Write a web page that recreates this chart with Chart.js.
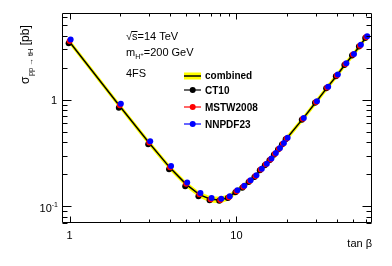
<!DOCTYPE html>
<html><head><meta charset="utf-8">
<script src="https://cdn.jsdelivr.net/npm/chart.js@4/dist/chart.umd.min.js"></script>
<style>html,body{margin:0;padding:0;background:#fff;}canvas{display:block;}</style>
</head><body>
<canvas id="c" width="392" height="266"></canvas>
<script>
const tanBeta = [1,2,3,4,5,6,7,8,9,10,11,12,13,14,15,16,17,18,19,20,25,30,35,40,45,50,55,60];
const ct10 = [3.38,0.842,0.382,0.223,0.155,0.125,0.1146,0.113,0.12,0.136,0.150,0.170,0.189,0.218,0.243,0.271,0.306,0.341,0.380,0.426,0.65,0.935,1.28,1.66,2.12,2.6,3.16,3.8];
const mstw2008 = [3.55,0.89,0.398,0.233,0.163,0.130,0.117,0.115,0.122,0.139,0.153,0.173,0.193,0.222,0.248,0.276,0.312,0.347,0.387,0.434,0.662,0.955,1.30,1.69,2.16,2.65,3.21,3.87];
const nnpdf23 = [3.66,0.918,0.408,0.24,0.168,0.134,0.120,0.118,0.125,0.142,0.156,0.176,0.196,0.226,0.252,0.281,0.317,0.353,0.393,0.441,0.673,0.97,1.323,1.72,2.20,2.69,3.27,3.93];
const combined = [3.48,0.87,0.393,0.23,0.161,0.129,0.117,0.115,0.122,0.139,0.153,0.173,0.193,0.222,0.248,0.276,0.311,0.347,0.386,0.433,0.662,0.952,1.30,1.69,2.16,2.64,3.21,3.86];
const combinedHigh = [3.69,0.92,0.417,0.244,0.171,0.137,0.125,0.123,0.130,0.147,0.162,0.183,0.205,0.235,0.263,0.293,0.330,0.368,0.409,0.459,0.702,1.01,1.38,1.79,2.29,2.80,3.40,4.09];
const combinedLow = [3.27,0.82,0.369,0.216,0.151,0.121,0.109,0.107,0.114,0.131,0.144,0.163,0.181,0.209,0.233,0.259,0.292,0.326,0.363,0.407,0.622,0.895,1.22,1.59,2.03,2.48,3.02,3.63];
const legendLabels = ['combined','CT10','MSTW2008','NNPDF23'];
const xTickLabels = [[1,'1'],[10,'10']];
const xMinor = [2,3,4,5,6,7,8,9,20,30,40,50,60];
const yMinor = [0.07,0.08,0.09,0.2,0.3,0.4,0.5,0.6,0.7,0.8,0.9,2,3,4,5,6];
const yMajor = [0.1,1];

const pts = arr => tanBeta.map((t,i)=>({x:t,y:arr[i]}));
const FONT = '"Liberation Sans", Arial, Helvetica, sans-serif';

const shiftPlugin = {
  id:'shift',
  beforeDatasetDraw(chart,args){
    const ds = chart.data.datasets[args.index];
    chart.ctx.save();
    if (ds.shiftX) chart.ctx.translate(ds.shiftX,0);
  },
  afterDatasetDraw(chart,args){ chart.ctx.restore(); }
};

const framePlugin = {
  id:'frame',
  afterDraw(chart){
    const ctx = chart.ctx, a = chart.chartArea;
    const xs = chart.scales.x, ys = chart.scales.y;
    ctx.save();
    ctx.strokeStyle = '#000'; ctx.lineWidth = 1;
    const L=Math.round(a.left)+0.5, R=Math.round(a.right)-0.5, T=Math.round(a.top)+0.5, B=Math.round(a.bottom)-0.5;
    ctx.beginPath(); ctx.rect(L,T,R-L,B-T); ctx.stroke();
    ctx.beginPath();
    const xt = (v,len)=>{ const p=Math.round(xs.getPixelForValue(v))+0.5; ctx.moveTo(p,B); ctx.lineTo(p,B-len); ctx.moveTo(p,T); ctx.lineTo(p,T+len); };
    const yt = (v,len)=>{ const p=Math.round(ys.getPixelForValue(v))+0.5; ctx.moveTo(L,p); ctx.lineTo(L+len,p); ctx.moveTo(R,p); ctx.lineTo(R-len,p); };
    xTickLabels.forEach(t=>xt(t[0],6)); xMinor.forEach(v=>xt(v,3));
    yMajor.forEach(v=>yt(v,9)); yMinor.forEach(v=>yt(v,5));
    ctx.stroke();
    // tick labels
    ctx.fillStyle = '#000';
    ctx.font = '11px '+FONT;
    ctx.textAlign='center'; ctx.textBaseline='alphabetic';
    xTickLabels.forEach(t=>ctx.fillText(t[1], xs.getPixelForValue(t[0]), 239));
    ctx.textAlign='right';
    ctx.fillText('1', 57, ys.getPixelForValue(1)+4);
    const yb = ys.getPixelForValue(0.1)+6;
    ctx.font = '7px '+FONT; ctx.textAlign='left';
    const supW = ctx.measureText('-1').width;
    ctx.fillText('-1', 58-supW, yb-5);
    ctx.font = '11px '+FONT; ctx.textAlign='right';
    ctx.fillText('10', 58-supW, yb);
    // x title
    ctx.font = '11px '+FONT; ctx.textAlign='right';
    ctx.fillText('tan β', 372, 247);
    // y title rotated
    ctx.save();
    ctx.translate(29, 84); ctx.rotate(-Math.PI/2);
    ctx.textAlign='left';
    let x=0;
    ctx.font='12px '+FONT; ctx.fillText('σ',x,0); x+=ctx.measureText('σ').width+0.5;
    ctx.font='7.5px '+FONT; ctx.fillText('pp → tH',x,4); x+=ctx.measureText('pp → tH').width;
    ctx.font='12px '+FONT; ctx.fillText(' [pb]',x,0);
    ctx.restore();
    // annotations
    ctx.textAlign='left';
    ctx.font='11px '+FONT;
    let ax=126;
    ctx.fillText('√',ax,40); ax+=ctx.measureText('√').width;
    const sW = ctx.measureText('s').width;
    ctx.fillText('s=14 TeV',ax,40);
    ctx.beginPath(); ctx.moveTo(ax-0.5,31.5); ctx.lineTo(ax+sW,31.5); ctx.stroke();
    ax=126;
    ctx.fillText('m',ax,56); ax+=ctx.measureText('m').width;
    ctx.font='7px '+FONT; ctx.fillText('H',ax,59); ax+=ctx.measureText('H').width;
    ctx.font='6px '+FONT; ctx.fillText('+',ax,56); ax+=ctx.measureText('+').width;
    ctx.font='11px '+FONT; ctx.fillText('=200 GeV',ax,56);
    ctx.fillText('4FS',126,76.5);
    // legend
    const lx0=184, lx1=201, lcx=192.7;
    ctx.fillStyle='#ffff00'; ctx.fillRect(lx0,72.5,lx1-lx0,7);
    ctx.strokeStyle='#000'; ctx.lineWidth=1.5;
    ctx.beginPath(); ctx.moveTo(lx0,76); ctx.lineTo(lx1,76); ctx.stroke();
    const rows=[[90,'#000000'],[107,'#ff0000'],[124,'#0000ff']];
    rows.forEach(r=>{
      ctx.strokeStyle=r[1]; ctx.lineWidth=1.2;
      ctx.beginPath(); ctx.moveTo(lx0,r[0]); ctx.lineTo(lx1,r[0]); ctx.stroke();
      ctx.fillStyle=r[1]; ctx.beginPath(); ctx.arc(lcx,r[0],3,0,Math.PI*2); ctx.fill();
    });
    ctx.fillStyle='#000'; ctx.font='bold 10px '+FONT;
    const base=[78.7,93.7,110.7,127.5];
    legendLabels.forEach((t,i)=>ctx.fillText(t,205,base[i]));
    ctx.restore();
  }
};

new Chart(document.getElementById('c'), {
  type:'line',
  data:{datasets:[
    {label:'band high', data:pts(combinedHigh), fill:'+1', backgroundColor:'#ffff00', borderWidth:0, pointRadius:0, order:6},
    {label:'band low', data:pts(combinedLow), fill:false, borderWidth:0, pointRadius:0, order:7},
    {label:'combined', data:pts(combined), fill:false, borderColor:'#000', borderWidth:1.5, pointRadius:0, order:5},
    {label:'CT10', data:pts(ct10), showLine:false, pointRadius:3, pointBackgroundColor:'#000', pointBorderWidth:0, order:3, shiftX:-1},
    {label:'MSTW2008', data:pts(mstw2008), showLine:false, pointRadius:3, pointBackgroundColor:'#ff0000', pointBorderWidth:0, order:2, shiftX:0},
    {label:'NNPDF23', data:pts(nnpdf23), showLine:false, pointRadius:3, pointBackgroundColor:'#0000ff', pointBorderWidth:0, order:1, shiftX:1}
  ]},
  options:{
    responsive:false, animation:false, devicePixelRatio:1,
    layout:{padding:{left:62,right:20,top:13,bottom:43}},
    plugins:{legend:{display:false}, tooltip:{enabled:false}},
    elements:{line:{tension:0}},
    scales:{
      x:{type:'logarithmic', min:0.9, max:65, display:false},
      y:{type:'logarithmic', min:0.07, max:6.5, display:false}
    }
  },
  plugins:[shiftPlugin, framePlugin]
});
</script>
</body></html>
